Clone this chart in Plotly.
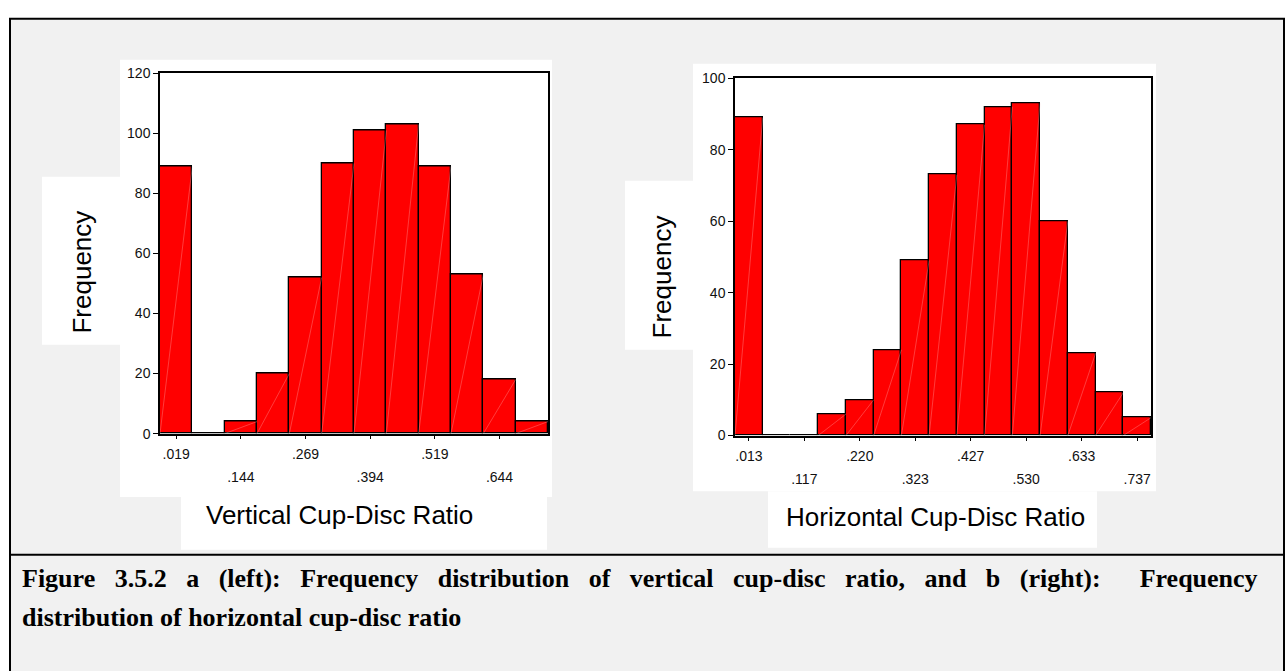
import plotly.graph_objects as go

W, H = 1285, 671

# ---------------- data ----------------
v_centers = [0.019, 0.0815, 0.144, 0.2065, 0.269, 0.3315, 0.394, 0.4565,
             0.519, 0.5815, 0.644, 0.7065]
v_counts = [89, 0, 4, 20, 52, 90, 101, 103, 89, 53, 18, 4]
v_bin_width = 0.0625
v_tick_vals = [0.019, 0.144, 0.269, 0.394, 0.519, 0.644]
v_tick_text = [".019", ".144", ".269", ".394", ".519", ".644"]
v_y_ticks = [0, 20, 40, 60, 80, 100, 120]

h_centers = [0.013, 0.0647, 0.1164, 0.1681, 0.2199, 0.2716, 0.3233, 0.3750,
             0.4267, 0.4784, 0.5301, 0.5819, 0.6336, 0.6853, 0.7370]
h_counts = [89, 0, 0, 6, 10, 24, 49, 73, 87, 92, 93, 60, 23, 12, 5]
h_bin_width = 0.051714
h_tick_vals = [0.013, 0.1164, 0.2199, 0.3233, 0.4267, 0.5301, 0.6336, 0.7370]
h_tick_text = [".013", ".117", ".220", ".323", ".427", ".530", ".633", ".737"]
h_y_ticks = [0, 20, 40, 60, 80, 100]

v_title = "Vertical Cup-Disc Ratio"
h_title = "Horizontal Cup-Disc Ratio"
y_title = "Frequency"
caption_1_words = ["Figure", "3.5.2", "a", "(left):", "Frequency", "distribution", "of",
                   "vertical", "cup-disc", "ratio,", "and", "b", "(right):", "", "Frequency"]
caption_2 = "distribution of horizontal cup-disc ratio"

SANS = "Liberation Sans, Arial, sans-serif"
SERIF = "Liberation Serif, Times New Roman, serif"
RED = "#ff0000"
GRAY = "#f1f1f1"


def px(x):
    return x / W


def py(y):
    return 1 - y / H


def diag(centers, counts, w):
    xs, ys = [], []
    for c, n in zip(centers, counts):
        if n > 0:
            xs += [c - w / 2, c + w / 2, None]
            ys += [0, n, None]
    return xs, ys


fig = go.Figure()

fig.add_trace(go.Bar(x=v_centers, y=v_counts, width=v_bin_width,
                     marker=dict(color=RED, line=dict(color="black", width=1.3)),
                     xaxis="x", yaxis="y", showlegend=False, hoverinfo="x+y"))
dx, dy = diag(v_centers, v_counts, v_bin_width)
fig.add_trace(go.Scatter(x=dx, y=dy, mode="lines",
                         line=dict(color="rgba(255,200,200,0.5)", width=0.6),
                         xaxis="x3", yaxis="y", showlegend=False, hoverinfo="skip"))

fig.add_trace(go.Bar(x=h_centers, y=h_counts, width=h_bin_width,
                     marker=dict(color=RED, line=dict(color="black", width=1.3)),
                     xaxis="x2", yaxis="y2", showlegend=False, hoverinfo="x+y"))
dx, dy = diag(h_centers, h_counts, h_bin_width)
fig.add_trace(go.Scatter(x=dx, y=dy, mode="lines",
                         line=dict(color="rgba(255,200,200,0.5)", width=0.6),
                         xaxis="x4", yaxis="y2", showlegend=False, hoverinfo="skip"))

tickfont = dict(family=SANS, size=14, color="#111111")
v_range = [v_centers[0] - v_bin_width / 2, v_centers[-1] + v_bin_width / 2]
h_range = [h_centers[0] - h_bin_width / 2, h_centers[-1] + h_bin_width / 2]

common_x = dict(showgrid=False, zeroline=False, ticks="outside", ticklen=4,
                tickcolor="black", tickwidth=1, tickfont=tickfont,
                showline=True, linecolor="black", linewidth=1.5, mirror=True,
                ticklabelstandoff=3)
common_y = dict(showgrid=False, zeroline=False, ticks="outside", ticklen=5,
                tickcolor="black", tickwidth=1, tickfont=tickfont,
                showline=True, linecolor="black", linewidth=1.5, mirror=True)

row1_v = [t if i % 2 == 0 else "" for i, t in enumerate(v_tick_text)]
row2_v = [t if i % 2 == 1 else "" for i, t in enumerate(v_tick_text)]
row1_h = [t if i % 2 == 0 else "" for i, t in enumerate(h_tick_text)]
row2_h = [t if i % 2 == 1 else "" for i, t in enumerate(h_tick_text)]

fig.update_layout(
    width=W, height=H,
    margin=dict(l=0, r=0, t=0, b=0),
    paper_bgcolor="white", plot_bgcolor="white",
    bargap=0, showlegend=False,
    xaxis=dict(domain=[px(160), px(548)], range=v_range, anchor="y",
               tickvals=v_tick_vals, ticktext=row1_v, **common_x),
    xaxis3=dict(overlaying="x", anchor="y", range=v_range,
                tickvals=v_tick_vals, ticktext=row2_v, ticks="",
                showline=False, showgrid=False, zeroline=False,
                tickfont=tickfont, ticklabelstandoff=33),
    yaxis=dict(domain=[py(436), py(67)], range=[0, 120], anchor="x",
               tickvals=v_y_ticks, **common_y),
    xaxis2=dict(domain=[px(735), px(1151)], range=h_range, anchor="y2",
                tickvals=h_tick_vals, ticktext=row1_h, **common_x),
    xaxis4=dict(overlaying="x2", anchor="y2", range=h_range,
                tickvals=h_tick_vals, ticktext=row2_h, ticks="",
                showline=False, showgrid=False, zeroline=False,
                tickfont=tickfont, ticklabelstandoff=33),
    yaxis2=dict(domain=[py(438), py(72)], range=[0, 100], anchor="x2",
                tickvals=h_y_ticks, **common_y),
)


def rect(x0, y0, x1, y1, fill, line=None, lw=0):
    return dict(type="rect", xref="paper", yref="paper", layer="below",
                x0=px(x0), x1=px(x1), y0=py(y1), y1=py(y0),
                fillcolor=fill, line=dict(color=line or fill, width=lw))


shapes = [
    rect(10, 11, 1284, 690, GRAY),
    # left panels
    rect(120, 53, 552, 501, "white"),
    rect(42, 173, 120, 345, "white"),
    rect(181, 501, 547, 555, "white"),
    # right panels
    rect(693, 57, 1156, 495, "white"),
    rect(625, 177, 693, 350, "white"),
    rect(768, 495, 1097, 553, "white"),
]
# border and separator
shapes.append(dict(type="rect", xref="paper", yref="paper", layer="above",
                   x0=px(10), x1=px(1284), y0=py(690), y1=py(11),
                   line=dict(color="black", width=2), fillcolor="rgba(0,0,0,0)"))
shapes.append(dict(type="line", xref="paper", yref="paper", layer="above",
                   x0=px(10), x1=px(1284), y0=py(560), y1=py(560),
                   line=dict(color="black", width=2)))
fig.update_layout(shapes=shapes)

# justified first caption line: widen each inter-word gap with an en space
caption_1 = " \u2002".join(caption_1_words)

ann_font = dict(family=SANS, size=26, color="black")
cap_font = dict(family=SERIF, size=26, color="black")
annotations = [
    dict(text=y_title, x=px(82), y=py(271), textangle=-90, font=ann_font),
    dict(text=y_title, x=px(662), y=py(275), textangle=-90, font=ann_font),
    dict(text=v_title, x=px(339), y=py(519), font=ann_font),
    dict(text=h_title, x=px(935), y=py(521), font=ann_font),
    dict(text="<b>" + caption_1 + "</b>", x=px(20), y=py(584), xanchor="left",
         font=cap_font),
    dict(text="<b>" + caption_2 + "</b>", x=px(20), y=py(624), xanchor="left",
         font=cap_font),
]
for a in annotations:
    a.setdefault("xanchor", "center")
    a.update(xref="paper", yref="paper", showarrow=False, yanchor="middle")
fig.update_layout(annotations=annotations)

fig.write_html("out.html")
